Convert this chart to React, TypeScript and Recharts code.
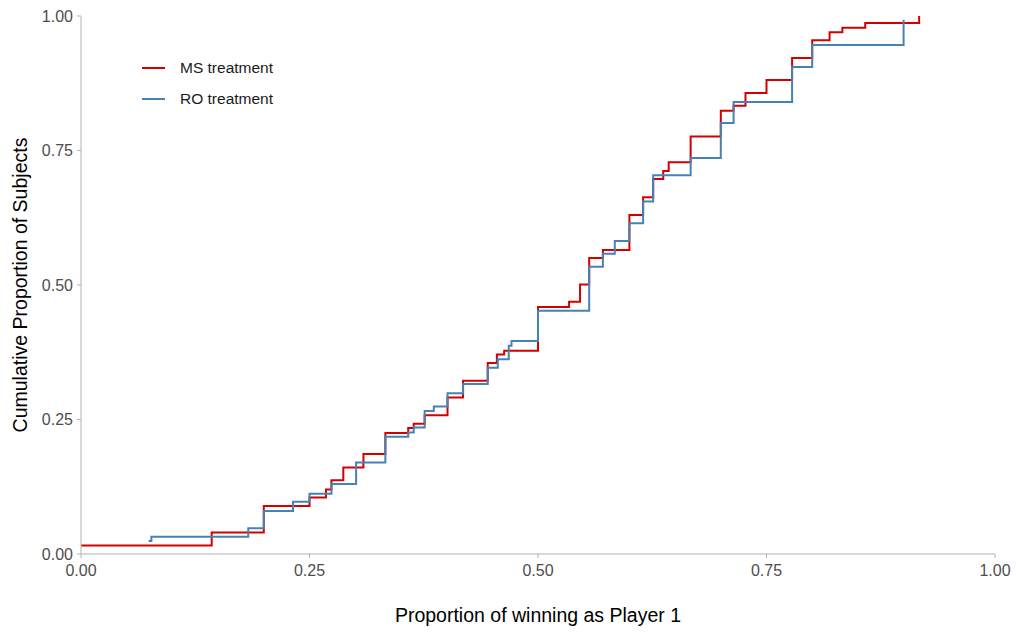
import { LineChart, Line, XAxis, YAxis, Label } from 'recharts';

const FONT = '"Liberation Sans", Arial, sans-serif';
const RED = '#d40000';
const BLUE = '#4682b4';

// ECDF points: proportion won as player 1 -> cumulative share
const msX = [0, 0.143, 0.2, 0.25, 0.268, 0.274, 0.287, 0.309, 0.333, 0.358, 0.364, 0.376, 0.401, 0.418, 0.445, 0.455, 0.463, 0.5, 0.534, 0.546, 0.556, 0.571, 0.6, 0.615, 0.626, 0.637, 0.643, 0.667, 0.7, 0.714, 0.727, 0.75, 0.778, 0.8, 0.819, 0.833, 0.858, 0.917];
const msY = [0.016, 0.04, 0.089, 0.105, 0.12, 0.137, 0.161, 0.186, 0.225, 0.234, 0.242, 0.258, 0.291, 0.322, 0.355, 0.371, 0.378, 0.459, 0.469, 0.501, 0.55, 0.565, 0.63, 0.663, 0.697, 0.712, 0.728, 0.776, 0.824, 0.833, 0.857, 0.881, 0.922, 0.955, 0.97, 0.978, 0.987, 1.0];

const roX = [0.074, 0.077, 0.183, 0.2, 0.232, 0.25, 0.274, 0.301, 0.333, 0.358, 0.364, 0.376, 0.386, 0.401, 0.418, 0.445, 0.456, 0.468, 0.471, 0.5, 0.556, 0.571, 0.584, 0.6, 0.615, 0.626, 0.667, 0.7, 0.714, 0.778, 0.8, 0.9];
const roY = [0.024, 0.032, 0.048, 0.08, 0.097, 0.112, 0.13, 0.17, 0.218, 0.226, 0.235, 0.266, 0.274, 0.299, 0.316, 0.346, 0.362, 0.387, 0.396, 0.452, 0.534, 0.558, 0.582, 0.615, 0.655, 0.704, 0.736, 0.801, 0.84, 0.905, 0.946, 0.993];

const ticks = [0, 0.25, 0.5, 0.75, 1];

const msData = msX.map((x, i) => ({ x, y: msY[i] }));
const roData = roX.map((x, i) => ({ x, y: roY[i] }));

const series = [
  { name: 'MS treatment', color: RED },
  { name: 'RO treatment', color: BLUE },
];

function LegendBox() {
  return (
    <div style={{ position: 'absolute', left: 142, top: 52, fontFamily: FONT, fontSize: 15.5, color: '#1a1a1a' }}>
      {series.map((s) => (
        <div key={s.name} style={{ display: 'flex', alignItems: 'center', height: 31 }}>
          <span style={{ display: 'inline-block', width: 23, height: 2, background: s.color, marginRight: 15 }} />
          {s.name}
        </div>
      ))}
    </div>
  );
}

const tickStyle = { fill: '#4d4d4d', fontSize: 16, fontFamily: FONT };
const axisLine = { stroke: '#b3b3b3', strokeWidth: 1 };

export default function App() {
  return (
    <div style={{ position: 'absolute', left: 0, top: 0, width: 1018, height: 632, background: '#fff' }}>
      <LineChart width={1018} height={632} margin={{ top: 16, right: 23, bottom: 48, left: 21 }}>
        <XAxis
          type="number"
          dataKey="x"
          domain={[0, 1]}
          ticks={ticks}
          tickFormatter={(v: number) => v.toFixed(2)}
          tick={tickStyle}
          axisLine={axisLine}
          tickLine={axisLine}
          tickSize={4}
          tickMargin={7}
          height={30}
          allowDataOverflow
        >
          <Label
            value="Proportion of winning as Player 1"
            position="bottom"
            offset={24}
            style={{ fill: '#000', fontSize: 19.5, fontFamily: FONT }}
          />
        </XAxis>
        <YAxis
          type="number"
          domain={[0, 1]}
          ticks={ticks}
          tickFormatter={(v: number) => v.toFixed(2)}
          tick={tickStyle}
          axisLine={axisLine}
          tickLine={axisLine}
          tickSize={4}
          tickMargin={4}
          width={60}
          allowDataOverflow
        >
          <Label
            value="Cumulative Proportion of Subjects"
            angle={-90}
            position="insideLeft"
            offset={-1}
            style={{ fill: '#000', fontSize: 19.5, fontFamily: FONT, textAnchor: 'middle' }}
          />
        </YAxis>
        <Line
          data={msData}
          dataKey="y"
          name="MS treatment"
          type="stepAfter"
          stroke={RED}
          strokeWidth={2}
          dot={false}
          isAnimationActive={false}
        />
        <Line
          data={roData}
          dataKey="y"
          name="RO treatment"
          type="stepAfter"
          stroke={BLUE}
          strokeWidth={2}
          dot={false}
          isAnimationActive={false}
        />
      </LineChart>
      <LegendBox />
    </div>
  );
}
